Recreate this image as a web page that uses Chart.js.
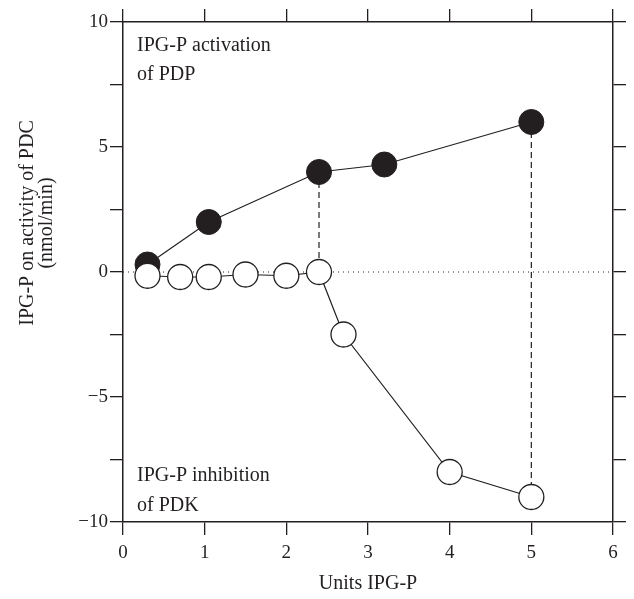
<!DOCTYPE html>
<html>
<head>
<meta charset="utf-8">
<script src="https://cdn.jsdelivr.net/npm/chart.js@4.4.1/dist/chart.umd.min.js"></script>
<style>
    html, body { margin: 0; padding: 0; background: #fff; }
    #grafico { display: block; }
</style>
</head>
<body>
<canvas id="grafico" width="634" height="599"></canvas>
<script>
const activacionX = [0.3, 1.05, 2.4, 3.2, 5.0];
const activacionY = [0.3, 2.0, 4.0, 4.3, 6.0];

const inhibicionX = [0.3, 0.7, 1.05, 1.5, 2.0, 2.4, 2.7, 4.0, 5.0];
const inhibicionY = [-0.15, -0.2, -0.2, -0.1, -0.15, 0.0, -2.5, -8.0, -9.0];

const lineasVerticalesX = [2.4, 5.0];

const ejeX = { min: 0, max: 6, paso: 1 };
const ejeY = { min: -10, max: 10, paso: 2.5, etiquetaCada: 5 };

const tituloX = 'Units IPG-P';
const tituloY = ['IPG-P on activity of PDC', '(nmol/min)'];
const textoActivacion = ['IPG-P activation', 'of PDP'];
const textoInhibicion = ['IPG-P inhibition', 'of PDK'];

const NEGRO = '#231f20';
const FUENTE = '"Liberation Serif", "DejaVu Serif", serif';

const puntos = (xs, ys) => xs.map((x, i) => ({ x, y: ys[i] }));

const buscarY = (xs, ys, x) => ys[xs.indexOf(x)];

const lineasVerticales = lineasVerticalesX.map(x => ({
    type: 'scatter',
    data: [
        { x, y: buscarY(activacionX, activacionY, x) },
        { x, y: buscarY(inhibicionX, inhibicionY, x) }
    ],
    showLine: true,
    borderColor: NEGRO,
    borderWidth: 1.2,
    borderDash: [6, 4],
    pointRadius: 0
}));

const lineaCero = {
    type: 'scatter',
    data: [{ x: ejeX.min, y: 0 }, { x: ejeX.max, y: 0 }],
    showLine: true,
    borderColor: NEGRO,
    borderWidth: 1.2,
    borderDash: [1, 4],
    pointRadius: 0
};

const fijarTamano = (prop, valor) => (scale) => { scale[prop] = valor; };

const marcas = {
    drawOnChartArea: false,
    drawTicks: true,
    tickLength: 13,
    color: NEGRO,
    lineWidth: 1.3
};

const borde = { display: true, color: NEGRO, width: 1.5 };

const textos = {
    id: 'textos',
    afterDatasetsDraw(chart) {
        const { ctx, chartArea } = chart;
        ctx.save();
        ctx.fillStyle = NEGRO;
        ctx.font = `20px ${FUENTE}`;
        ctx.textAlign = 'left';
        ctx.textBaseline = 'alphabetic';
        const izq = chartArea.left + 14;
        ctx.fillText(textoActivacion[0], izq, chartArea.top + 29);
        ctx.fillText(textoActivacion[1], izq, chartArea.top + 58);
        ctx.fillText(textoInhibicion[0], izq, chartArea.bottom - 41);
        ctx.fillText(textoInhibicion[1], izq, chartArea.bottom - 11);

        ctx.font = `20px ${FUENTE}`;
        ctx.textAlign = 'center';
        ctx.textBaseline = 'middle';
        ctx.translate(0, chartArea.top + 201);
        ctx.rotate(-Math.PI / 2);
        ctx.fillText(tituloY[0], 0, 28);
        ctx.fillText(tituloY[1], 0, 47);
        ctx.restore();
    }
};

const ctx = document.getElementById('grafico').getContext('2d');
new Chart(ctx, {
    type: 'scatter',
    data: {
        datasets: [
            {
                data: puntos(inhibicionX, inhibicionY),
                showLine: true,
                borderColor: NEGRO,
                borderWidth: 1.2,
                pointRadius: 12.5,
                pointBackgroundColor: '#ffffff',
                pointBorderColor: NEGRO,
                pointBorderWidth: 1.3
            },
            {
                data: puntos(activacionX, activacionY),
                showLine: true,
                borderColor: NEGRO,
                borderWidth: 1.2,
                pointRadius: 12.5,
                pointBackgroundColor: NEGRO,
                pointBorderColor: NEGRO,
                pointBorderWidth: 1
            },
            ...lineasVerticales,
            lineaCero
        ]
    },
    options: {
        responsive: false,
        animation: false,
        devicePixelRatio: 1,
        layout: { padding: 0 },
        plugins: {
            legend: { display: false },
            tooltip: { enabled: false }
        },
        scales: {
            x: {
                type: 'linear',
                position: 'bottom',
                min: ejeX.min,
                max: ejeX.max,
                grid: marcas,
                border: borde,
                ticks: {
                    stepSize: ejeX.paso,
                    color: NEGRO,
                    padding: 7,
                    font: { family: FUENTE, size: 19 }
                },
                title: {
                    display: true,
                    text: tituloX,
                    color: NEGRO,
                    padding: { top: 2, bottom: 3 },
                    font: { family: FUENTE, size: 20 }
                },
                afterFit: fijarTamano('height', 77)
            },
            xArriba: {
                type: 'linear',
                position: 'top',
                min: ejeX.min,
                max: ejeX.max,
                grid: marcas,
                border: borde,
                ticks: { stepSize: ejeX.paso, display: false },
                afterFit: fijarTamano('height', 22)
            },
            y: {
                type: 'linear',
                position: 'left',
                min: ejeY.min,
                max: ejeY.max,
                grid: marcas,
                border: borde,
                ticks: {
                    stepSize: ejeY.paso,
                    color: NEGRO,
                    padding: 2,
                    font: { family: FUENTE, size: 19 },
                    callback: (v) => v % ejeY.etiquetaCada === 0
                        ? (v < 0 ? '\u2212' + Math.abs(v) : String(v))
                        : ''
                },
                afterFit: fijarTamano('width', 123)
            },
            yDerecha: {
                type: 'linear',
                position: 'right',
                min: ejeY.min,
                max: ejeY.max,
                grid: marcas,
                border: borde,
                ticks: { stepSize: ejeY.paso, display: false },
                afterFit: fijarTamano('width', 21)
            }
        }
    },
    plugins: [textos]
});
</script>
</body>
</html>
